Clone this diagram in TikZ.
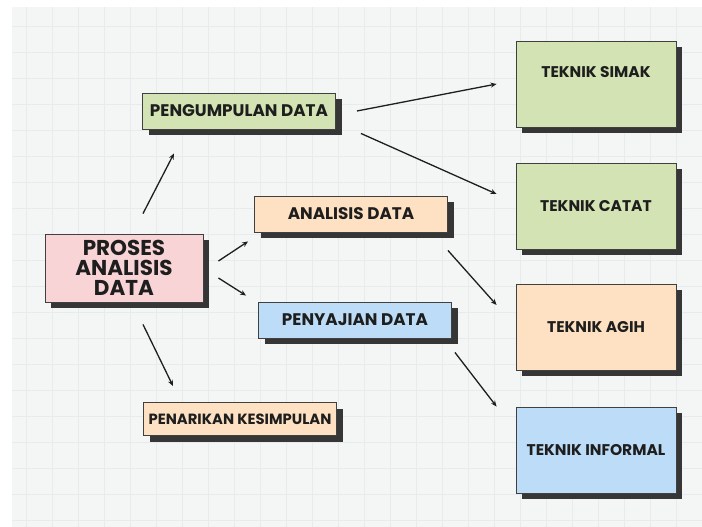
\documentclass[tikz,border=0pt]{standalone}
\usepackage{fontspec}
\setmainfont{Poppins}
\usetikzlibrary{calc,shadows,arrows.meta}
\definecolor{paper}{HTML}{F4F5F5}
\definecolor{gridline}{HTML}{E8EBEC}
\definecolor{pgreen}{HTML}{D3E3B3}
\definecolor{ppink}{HTML}{F8D4D7}
\definecolor{ppeach}{HTML}{FDE1C2}
\definecolor{pblue}{HTML}{BCDCF7}
\definecolor{ink}{HTML}{1E1E1E}
\definecolor{shade}{HTML}{363636}
\tikzset{
  box/.style={draw=ink!85, line width=0.9pt, text=ink, align=center,
    font=\bfseries\fontsize{16.8}{18}\selectfont, inner sep=0pt,
    general shadow={fill=shade, shadow xshift=6pt, shadow yshift=-6pt}},
  small/.style={box, minimum width=193pt, minimum height=36pt},
  big/.style={box, minimum width=160pt, minimum height=86pt,
    font=\bfseries\fontsize{15.5}{17}\selectfont},
  arr/.style={-{Stealth[length=6pt,width=5pt]}, line width=1.3pt, draw=ink}
}
\begin{document}
\begin{tikzpicture}[x=1pt,y=-1pt]
            \useasboundingbox (0,0) rectangle (702,527);
            %Paper
            \fill[white] (0,0) rectangle (702,527);
            \fill[paper] (12,7) rectangle (702,527);
            \draw[gridline, line width=0.5pt, step=26pt] (12,7) grid (702,527);

            %Nodes
            \node[box, fill=ppink, minimum width=158pt, minimum height=68pt,
              font=\bfseries\fontsize{21.5}{20}\selectfont] at (124,268) (proses) {PROSES\\ANALISIS\\DATA};
            \node[small, fill=pgreen] at (239,111) (kumpul) {PENGUMPULAN DATA};
            \node[small, fill=ppeach] at (351,214) (analisis) {ANALISIS DATA};
            \node[small, fill=pblue] at (355,320) (saji) {PENYAJIAN DATA};
            \node[small, fill=ppeach, minimum height=33pt,
              font=\bfseries\fontsize{14.8}{16}\selectfont] at (240,419) (tarik) {PENARIKAN KESIMPULAN};
            \node[big, fill=pgreen, text height=11pt, text depth=24pt] at (596,84) (simak) {TEKNIK SIMAK};
            \node[big, fill=pgreen] at (596,206) (catat) {TEKNIK CATAT};
            \node[big, fill=ppeach] at (596,327) (agih) {TEKNIK AGIH};
            \node[big, fill=pblue] at (596,450) (informal) {TEKNIK INFORMAL};

            %Lines
            \draw[arr] ($(proses.north)+(19,-20)$) -- ($(kumpul.south)+(-65,24)$);
            \draw[arr] ($(proses.east)+(15,-7)$) -- ($(analisis.south west)+(-6,9)$);
            \draw[arr] ($(proses.east)+(15,10)$) -- ($(saji.north west)+(-12,-6)$);
            \draw[arr] ($(proses.south)+(19,22)$) -- ($(tarik.north)+(-67,-16)$);
            \draw[arr] ($(kumpul.east)+(21,0)$) -- ($(simak.west)+(-19,0)$);
            \draw[arr] ($(kumpul.south east)+(25,4)$) -- ($(catat.west)+(-19,-12)$);
            \draw[arr] ($(analisis.south east)+(0,18)$) -- ($(agih.west)+(-19,-22)$);
            \draw[arr] ($(saji.south east)+(3,14)$) -- ($(informal.north west)+(-19,0)$);
        \end{tikzpicture}
\end{document}
